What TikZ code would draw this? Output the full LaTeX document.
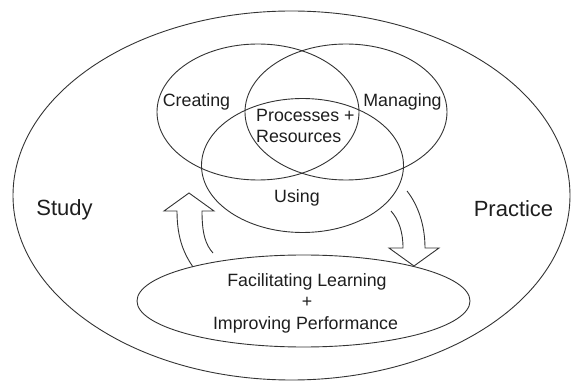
\documentclass[tikz,border=0pt]{standalone}
\usepackage{fontspec}
\setmainfont{Liberation Sans}
\usetikzlibrary{shapes.geometric}
\definecolor{ln}{HTML}{333333}
\definecolor{tx}{HTML}{1E1E1E}
\tikzset{
  oval/.style={draw=ln, line width=0.9pt, ellipse, inner sep=0pt},
  lbl/.style={text=tx, inner sep=0pt, anchor=base, font=\fontsize{17.8}{21}\selectfont},
  biglbl/.style={text=tx, inner sep=0pt, anchor=base, font=\fontsize{22}{26}\selectfont},
  blockarrow/.style={draw=ln, line width=0.9pt, line join=miter}
}
\begin{document}
\begin{tikzpicture}[x=1pt,y=-1pt]
\useasboundingbox (0,0) rectangle (571,385);
\node[oval, minimum width=557pt, minimum height=369pt] (outer) at (291.5,195.5) {};
\node[oval, minimum width=202pt, minimum height=136pt] (create) at (258,112) {};
\node[oval, minimum width=202pt, minimum height=136pt] (manage) at (346,112) {};
\node[oval, minimum width=202pt, minimum height=134pt] (using) at (302.5,165.5) {};
\node[oval, minimum width=333pt, minimum height=92pt] (goal) at (303.5,301) {};

\node[lbl] (tcreate) at (196.5,107) {Creating};
\node[lbl] (tmanage) at (402.5,107) {Managing};
\node[lbl, anchor=base west] (tproc) at (256,122) {Processes +};
\node[lbl, anchor=base west] (tres) at (256,143) {Resources};
\node[lbl] (tusing) at (297,203) {Using};
\node[biglbl] (tstudy) at (64.5,215) {Study};
\node[biglbl] (tpractice) at (513.5,217) {Practice};
\node[lbl] (tfac) at (307,287) {Facilitating Learning};
\node[lbl] (tplus) at (307,308) {+};
\node[lbl] (timp) at (305.5,329) {Improving Performance};

% up arrow (left)
\draw[blockarrow] (213,253) .. controls (206,245) and (202,235) .. (202,211)
  -- (214,211) -- (189,193) -- (164,211) -- (177,211)
  .. controls (177,240) and (185,255) .. (193,267);
% down arrow (right)
\draw[blockarrow] (391,211) .. controls (399,220) and (403,232) .. (403,248)
  -- (389,248) -- (414,266) -- (439,248) -- (425,248)
  .. controls (425,225) and (418,205) .. (407,191);
\end{tikzpicture}
\end{document}
